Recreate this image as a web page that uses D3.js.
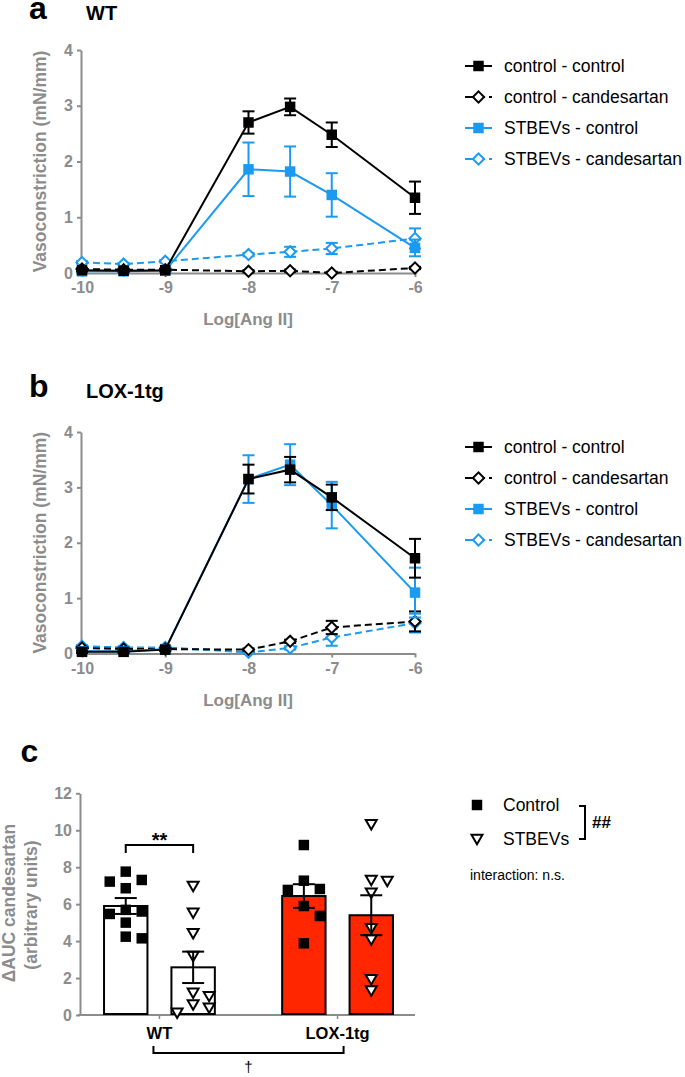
<!DOCTYPE html>
<html>
<head>
<meta charset="utf-8">
<script src="https://cdn.jsdelivr.net/npm/d3@7"></script>
<style>
body { margin: 0; background: #fff; }
text { font-family: "Liberation Sans", Arial, sans-serif; }
</style>
</head>
<body>
<div id="app"></div>
<script>
// ---- data ----
const logDose = [-10, -9.5, -9, -8, -7.5, -7, -6]
const doseTicks = [-10, -9, -8, -7, -6]
const seriesNames = ["control - control", "control - candesartan", "STBEVs - control", "STBEVs - candesartan"]

// panel a: WT, mean and SEM per series
const wtCtrlCtrl = [0.05, 0.04, 0.05, 2.70, 2.98, 2.48, 1.35]
const wtCtrlCtrlSem = [0.02, 0.02, 0.02, 0.20, 0.15, 0.22, 0.29]
const wtCtrlCand = [0.07, 0.06, 0.06, 0.03, 0.04, 0.00, 0.09]
const wtCtrlCandSem = [0.02, 0.02, 0.02, 0.02, 0.02, 0.02, 0.02]
const wtStbCtrl = [0.03, 0.03, 0.04, 1.86, 1.82, 1.40, 0.45]
const wtStbCtrlSem = [0.02, 0.02, 0.02, 0.48, 0.45, 0.39, 0.15]
const wtStbCand = [0.19, 0.16, 0.21, 0.33, 0.38, 0.44, 0.62]
const wtStbCandSem = [0.02, 0.02, 0.02, 0.03, 0.09, 0.10, 0.18]

// panel b: LOX-1tg
const loxCtrlCtrl = [0.03, 0.03, 0.07, 3.15, 3.32, 2.82, 1.72]
const loxCtrlCtrlSem = [0.02, 0.02, 0.03, 0.26, 0.23, 0.23, 0.35]
const loxCtrlCand = [0.10, 0.08, 0.08, 0.07, 0.22, 0.47, 0.58]
const loxCtrlCandSem = [0.02, 0.02, 0.02, 0.02, 0.03, 0.12, 0.18]
const loxStbCtrl = [0.04, 0.04, 0.08, 3.15, 3.41, 2.68, 1.10]
const loxStbCtrlSem = [0.02, 0.02, 0.03, 0.43, 0.37, 0.42, 0.45]
const loxStbCand = [0.13, 0.11, 0.11, 0.02, 0.10, 0.29, 0.55]
const loxStbCandSem = [0.02, 0.02, 0.02, 0.02, 0.03, 0.15, 0.17]

// panel c: delta AUC candesartan
const groups = ["WT", "LOX-1tg"]
const treatments = ["Control", "STBEVs"]
const barMeans = [[5.90, 2.58], [6.44, 5.40]]
const barSems = [[0.43, 0.85], [0.64, 1.08]]
const wtControlPts = [7.76, 7.31, 7.22, 6.86, 5.69, 5.60, 5.47, 5.00, 4.24, 4.15]
const wtStbevsPts = [7.04, 5.59, 4.48, 3.25, 1.26, 1.08, 0.63, 0.45, 0.18]
const loxControlPts = [9.20, 7.27, 6.82, 6.77, 5.90, 5.36, 3.88]
const loxStbevsPts = [10.38, 7.36, 7.31, 6.68, 4.75, 4.15, 1.99, 1.39]
const aucTicks = [0, 2, 4, 6, 8, 10, 12]

// ---- styles ----
const gray = "#8c8c8c"
const blue = "#1a9af0"
const red = "#ff2600"
const seriesStyle = [
   {color: "#000", dash: null, marker: "square"},
   {color: "#000", dash: "7,4", marker: "diamond"},
   {color: blue, dash: null, marker: "square"},
   {color: blue, dash: "7,4", marker: "diamond"}
]

const W = 685, H = 1077
const svg = d3.select("#app").append("svg")
   .attr("width", W).attr("height", H)
   .attr("viewBox", [0, 0, W, H])

svg.append("rect").attr("width", W).attr("height", H).attr("fill", "#fff")

const squarePath = d3.symbol(d3.symbolSquare).size(110)()
const diamondPath = d3.symbol(d3.symbolSquare).size(62)()
const trianglePath = d3.symbol(d3.symbolTriangle).size(52)()

const drawMarker = (g, kind, color, x, y) => {
   if (kind === "square") {
      g.append("path").attr("d", squarePath)
         .attr("transform", `translate(${x},${y})`)
         .attr("fill", color)
   } else {
      g.append("path").attr("d", diamondPath)
         .attr("transform", `translate(${x},${y}) rotate(45)`)
         .attr("fill", "#fff").attr("stroke", color).attr("stroke-width", 2)
   }
}

const styleAxis = (g) => {
   g.selectAll(".domain").attr("stroke", gray).attr("stroke-width", 2)
   g.selectAll(".tick line").attr("stroke", gray).attr("stroke-width", 2)
   g.selectAll(".tick text")
      .attr("fill", gray).attr("font-size", "16px").attr("font-weight", "bold")
}

const drawCurves = (cfg) => {
   const x = d3.scaleLinear().domain([-10, -6]).range([82, 415])
   const y = d3.scaleLinear().domain([0, 4]).range([cfg.bottom, cfg.top])
   const g = svg.append("g")

   // axes
   g.append("g")
      .attr("transform", `translate(81,0)`)
      .call(d3.axisLeft(y).ticks(4).tickSize(4).tickSizeOuter(0).tickPadding(4))
      .call(styleAxis)
   g.append("g")
      .attr("transform", `translate(0,${cfg.bottom})`)
      .call(d3.axisBottom(x).tickValues(doseTicks).tickFormat(d => String(d))
         .tickSize(4).tickSizeOuter(0).tickPadding(5))
      .call(styleAxis)
   g.append("line")
      .attr("x1", 80).attr("x2", 82).attr("y1", cfg.bottom).attr("y2", cfg.bottom)
      .attr("stroke", gray).attr("stroke-width", 2)

   g.append("text")
      .attr("transform", `translate(46,${(cfg.top + cfg.bottom) / 2}) rotate(-90)`)
      .attr("text-anchor", "middle")
      .attr("fill", gray).attr("font-size", "17.5px").attr("font-weight", "bold")
      .text("Vasoconstriction (mN/mm)")
   g.append("text")
      .attr("x", 248).attr("y", cfg.bottom + 52)
      .attr("text-anchor", "middle")
      .attr("fill", gray).attr("font-size", "17px").attr("font-weight", "bold")
      .text("Log[Ang II]")

   // panel letter and title
   g.append("text").attr("x", 29).attr("y", cfg.letterY)
      .attr("font-size", "32px").attr("font-weight", "bold").text(cfg.letter)
   g.append("text").attr("x", 86).attr("y", cfg.letterY + 1.5)
      .attr("font-size", "20px").attr("font-weight", "bold").text(cfg.title)

   const line = d3.line().x((d, i) => x(logDose[i])).y(d => y(d))

   // draw in back-to-front order
   ;[3, 1, 2, 0].forEach(k => {
      const st = seriesStyle[k]
      const m = cfg.means[k], s = cfg.sems[k]
      const sg = g.append("g")
      sg.append("path").datum(m)
         .attr("d", line).attr("fill", "none")
         .attr("stroke", st.color).attr("stroke-width", 2)
         .attr("stroke-dasharray", st.dash)
      m.forEach((v, i) => {
         const cx = x(logDose[i])
         const y1 = y(v + s[i]), y2 = y(Math.max(0, v - s[i]))
         sg.append("line").attr("x1", cx).attr("x2", cx).attr("y1", y1).attr("y2", y2)
            .attr("stroke", st.color).attr("stroke-width", 2)
         ;[y1, y2].forEach(yy => sg.append("line")
            .attr("x1", cx - 6).attr("x2", cx + 6).attr("y1", yy).attr("y2", yy)
            .attr("stroke", st.color).attr("stroke-width", 2))
      })
      m.forEach((v, i) => drawMarker(sg, st.marker, st.color, x(logDose[i]), y(v)))
   })

   // legend
   const lg = g.append("g")
   seriesNames.forEach((name, k) => {
      const st = seriesStyle[k]
      const ly = cfg.legendY + k * 31
      lg.append("line").attr("x1", 465).attr("x2", 492).attr("y1", ly).attr("y2", ly)
         .attr("stroke", st.color).attr("stroke-width", 2)
         .attr("stroke-dasharray", st.dash ? "8,4" : null)
      drawMarker(lg, st.marker, st.color, 478.5, ly)
      lg.append("text").attr("x", 504).attr("y", ly + 6)
         .attr("font-size", "17.5px").attr("fill", "#000").text(name)
   })
}

drawCurves({
   letter: "a", title: "WT", letterY: 18.5, top: 50, bottom: 273, legendY: 66,
   means: [wtCtrlCtrl, wtCtrlCand, wtStbCtrl, wtStbCand],
   sems: [wtCtrlCtrlSem, wtCtrlCandSem, wtStbCtrlSem, wtStbCandSem]
})
drawCurves({
   letter: "b", title: "LOX-1tg", letterY: 396.5, top: 432, bottom: 653.5, legendY: 447,
   means: [loxCtrlCtrl, loxCtrlCand, loxStbCtrl, loxStbCand],
   sems: [loxCtrlCtrlSem, loxCtrlCandSem, loxStbCtrlSem, loxStbCandSem]
})

// ---- panel c ----
const swarm = (vals, yScale, sepX, sepY) => {
   const placed = []
   return vals.map(v => {
      const py = yScale(v)
      const cands = [0, sepX, -sepX, 2 * sepX, -2 * sepX, 3 * sepX, -3 * sepX]
      const dx = cands.find(c => placed.every(p => Math.abs(p.y - py) >= sepY || Math.abs(p.x - c) >= sepX))
      placed.push({x: dx, y: py})
      return dx
   })
}

const cg = svg.append("g")
const yc = d3.scaleLinear().domain([0, 12]).range([1015, 793.3])
const xg = d3.scalePoint().domain(groups).range([80, 417]).padding(0.446)
const xs = d3.scaleBand().domain(treatments).range([-55.4, 55.4]).paddingInner(0.356).paddingOuter(0)

cg.append("text").attr("x", 20.5).attr("y", 761.5)
   .attr("font-size", "32px").attr("font-weight", "bold").text("c")

cg.append("g").attr("transform", "translate(80,0)")
   .call(d3.axisLeft(yc).tickValues(aucTicks).tickSize(4).tickSizeOuter(0).tickPadding(4))
   .call(styleAxis)
cg.append("line").attr("x1", 78).attr("x2", 415).attr("y1", 1015).attr("y2", 1015)
   .attr("stroke", gray).attr("stroke-width", 2)
groups.forEach(gr => {
   cg.append("line").attr("x1", xg(gr)).attr("x2", xg(gr)).attr("y1", 1015).attr("y2", 1019)
      .attr("stroke", gray).attr("stroke-width", 1.5)
   cg.append("text").attr("x", xg(gr)).attr("y", 1039)
      .attr("text-anchor", "middle").attr("font-size", "16.5px").attr("font-weight", "bold")
      .text(gr)
})

cg.append("text")
   .attr("transform", `translate(15,903) rotate(-90)`)
   .attr("text-anchor", "middle").attr("fill", gray)
   .attr("font-size", "17.5px").attr("font-weight", "bold")
   .text("ΔAUC candesartan")
cg.append("text")
   .attr("transform", `translate(37,905) rotate(-90)`)
   .attr("text-anchor", "middle").attr("fill", gray)
   .attr("font-size", "17.5px").attr("font-weight", "bold")
   .text("(arbitrary units)")

const points = [[wtControlPts, wtStbevsPts], [loxControlPts, loxStbevsPts]]

groups.forEach((gr, gi) => {
   treatments.forEach((tr, ti) => {
      const bx = xg(gr) + xs(tr)
      const cx = bx + xs.bandwidth() / 2
      const mean = barMeans[gi][ti], sem = barSems[gi][ti]
      cg.append("rect")
         .attr("x", bx).attr("y", yc(mean))
         .attr("width", xs.bandwidth()).attr("height", yc(0) - yc(mean) - 1)
         .attr("fill", gi === 0 ? "#fff" : red)
         .attr("stroke", "#000").attr("stroke-width", 2)
      const pts = points[gi][ti]
      const offs = swarm(pts, yc, 16, 11)
      pts.forEach((v, i) => {
         if (ti === 0) {
            cg.append("path").attr("d", squarePath)
               .attr("transform", `translate(${cx + offs[i]},${yc(v)})`)
               .attr("fill", "#000")
         } else {
            cg.append("path").attr("d", trianglePath)
               .attr("transform", `translate(${cx + offs[i]},${yc(v)}) rotate(180)`)
               .attr("fill", "#fff").attr("stroke", "#000").attr("stroke-width", 2)
         }
      })
      const e1 = yc(mean + sem), e2 = yc(mean - sem)
      cg.append("line").attr("x1", cx).attr("x2", cx).attr("y1", e1).attr("y2", e2)
         .attr("stroke", "#000").attr("stroke-width", 2)
      ;[e1, e2].forEach(yy => cg.append("line")
         .attr("x1", cx - 11).attr("x2", cx + 11).attr("y1", yy).attr("y2", yy)
         .attr("stroke", "#000").attr("stroke-width", 2))
   })
})

// significance marks
const wtC = xg("WT") + xs("Control") + xs.bandwidth() / 2
const wtS = xg("WT") + xs("STBEVs") + xs.bandwidth() / 2
cg.append("path")
   .attr("d", d3.line()([[wtC, 853], [wtC, 845], [wtS, 845], [wtS, 853]]))
   .attr("fill", "none").attr("stroke", "#000").attr("stroke-width", 2)
cg.append("text").attr("x", (wtC + wtS) / 2).attr("y", 847)
   .attr("text-anchor", "middle").attr("font-size", "20px").attr("font-weight", "bold")
   .text("**")

const gL = xg("WT") - 6, gR = xg("LOX-1tg") + 6
cg.append("path")
   .attr("d", d3.line()([[gL, 1046], [gL, 1053], [gR, 1053], [gR, 1046]]))
   .attr("fill", "none").attr("stroke", "#000").attr("stroke-width", 2)
cg.append("text").attr("x", (gL + gR) / 2).attr("y", 1072)
   .attr("text-anchor", "middle").attr("font-size", "15px").text("†")

// legend c
const lc = cg.append("g")
lc.append("path").attr("d", squarePath).attr("transform", "translate(477,805)").attr("fill", "#000")
lc.append("path").attr("d", trianglePath).attr("transform", "translate(477,838) rotate(180)")
   .attr("fill", "#fff").attr("stroke", "#000").attr("stroke-width", 2)
lc.append("text").attr("x", 503).attr("y", 811).attr("font-size", "17.5px").text("Control")
lc.append("text").attr("x", 503).attr("y", 845).attr("font-size", "17.5px").text("STBEVs")
lc.append("path")
   .attr("d", d3.line()([[579, 806], [585, 806], [585, 839], [579, 839]]))
   .attr("fill", "none").attr("stroke", "#000").attr("stroke-width", 2)
lc.append("text").attr("x", 592).attr("y", 828)
   .attr("font-size", "17px").attr("font-weight", "bold").text("##")
lc.append("text").attr("x", 470).attr("y", 880).attr("font-size", "14px").text("interaction: n.s.")
</script>
</body>
</html>
